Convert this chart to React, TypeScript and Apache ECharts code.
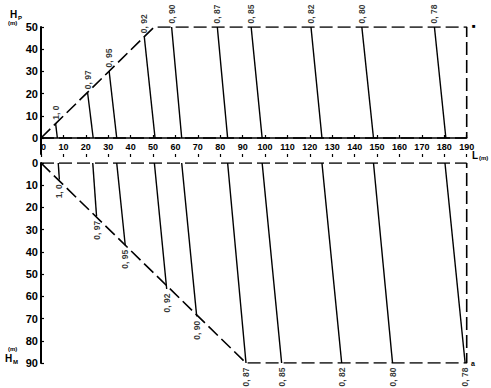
import React, { useEffect, useRef } from "react";
import * as echarts from "echarts";

// factor labels
const factorLabels = ["1, 0", "0, 97", "0, 95", "0, 92", "0, 90", "0, 87", "0, 85", "0, 82", "0, 80", "0, 78"];

// upper diagram (H_P): top end of each factor line and its foot on H_P = 0
const upperTopX = [6.5, 20.8, 30.4, 46.1, 58.3, 78.7, 93.8, 120.5, 143.2, 175.6];
const upperTopY = [6.7, 20.4, 30.2, 45.6, 50, 50, 50, 50, 50, 50];
const upperFootX = [7.3, 23.3, 33.8, 50.9, 62.8, 83.3, 98.7, 125.4, 148.4, 180.7];

// lower diagram (H_M): start on H_M = 0 and bottom end of each factor line
const lowerTopX = [7.7, 23.1, 33.8, 50.6, 62.8, 83.3, 98.7, 125.4, 148.4, 180.3];
const lowerBotX = [8.2, 24.8, 37.6, 56.1, 69.5, 91.5, 107.4, 134.2, 156.9, 189.3];
const lowerBotY = [7.5, 24, 37, 56.7, 69, 90, 90, 90, 90, 90];

// boundaries
const upperOutline = [[0, 0], [50.5, 50], [190, 50], [190, 0]];
const upperBase = [[0, 0], [190, 0]];
const lowerOutline = [[0, 0], [91.5, 90], [190, 90], [190, 0]];
const lowerBase = [[0, 0], [190, 0]];

// axis ticks
const upperYTicks = [0, 10, 20, 30, 40, 50];

const FONT = "Liberation Sans";

export default function App() {
  const ref = useRef<HTMLDivElement>(null);
  useEffect(() => {
    if (!ref.current) return;
    const chart = echarts.init(ref.current, null, { renderer: "svg" });
    const black = "#000";
    const dashed = (data: number[][], xi: number, yi: number) => ({
      type: "line",
      xAxisIndex: xi,
      yAxisIndex: yi,
      data,
      symbol: "none",
      silent: true,
      lineStyle: { color: black, width: 1.6, type: [13, 5] },
    });
    const series: any[] = [];
    series.push(dashed(upperBase, 0, 0));
    series.push(dashed(upperOutline, 0, 0));
    series.push(dashed(lowerBase, 2, 1));
    series.push(dashed(lowerOutline, 2, 1));
    factorLabels.forEach((_, i) => {
      series.push({
        type: "line",
        xAxisIndex: 0,
        yAxisIndex: 0,
        symbol: "none",
        silent: true,
        data: [[upperTopX[i], upperTopY[i]], [upperFootX[i], 0]],
        lineStyle: { color: black, width: 1.4 },
      });
      series.push({
        type: "line",
        xAxisIndex: 2,
        yAxisIndex: 1,
        symbol: "none",
        silent: true,
        data: [[lowerTopX[i], 0], [lowerBotX[i], lowerBotY[i]]],
        lineStyle: { color: black, width: 1.4 },
      });
    });
    const labelStyle = { color: black, fontFamily: FONT, fontWeight: "bold", fontSize: 8.5 };
    series.push({
      type: "scatter",
      xAxisIndex: 0,
      yAxisIndex: 0,
      symbolSize: 1,
      silent: true,
      itemStyle: { color: "transparent" },
      data: factorLabels.map((n, i) => ({ value: [upperTopX[i], upperTopY[i]], name: n })),
      label: {
        show: true,
        formatter: (p: any) => p.name,
        position: "top",
        distance: 3,
        rotate: 90,
        align: "left",
        verticalAlign: "middle",
        ...labelStyle,
      },
    });
    series.push({
      type: "scatter",
      xAxisIndex: 2,
      yAxisIndex: 1,
      symbolSize: 1,
      silent: true,
      itemStyle: { color: "transparent" },
      data: factorLabels.map((n, i) => ({ value: [lowerBotX[i], lowerBotY[i]], name: n })),
      label: {
        show: true,
        formatter: (p: any) => p.name,
        position: "bottom",
        distance: 4,
        rotate: 90,
        align: "right",
        verticalAlign: "middle",
        ...labelStyle,
      },
    });

    const small = (text: string, x: number, y: number, size: number) => ({
      type: "text",
      x,
      y,
      silent: true,
      style: { text, fill: black, font: `bold ${size}px ${FONT}` },
    });

    chart.setOption({
      animation: false,
      backgroundColor: "#fff",
      grid: [
        { left: 41, right: 24.3, top: 27, height: 127 },
        { left: 41, right: 24.3, top: 163, height: 200 },
      ],
      xAxis: [
        {
          type: "value",
          gridIndex: 0,
          min: 0,
          max: 190,
          interval: 10,
          position: "bottom",
          axisLine: { show: true, lineStyle: { color: black, width: 1.6 } },
          axisTick: { show: true, inside: true, length: 3, lineStyle: { color: black, width: 1.2 } },
          axisLabel: {
            inside: true,
            margin: 3,
            alignMinLabel: "left",
            color: black,
            fontFamily: FONT,
            fontWeight: "bold",
            fontSize: 9,
          },
          splitLine: { show: false },
        },
        {
          type: "value",
          gridIndex: 0,
          min: 0,
          max: 190,
          interval: 10,
          position: "bottom",
          axisLine: { show: false },
          axisTick: { show: true, inside: false, length: 3, lineStyle: { color: black, width: 1.2 } },
          axisLabel: { show: false },
          splitLine: { show: false },
        },
        { type: "value", gridIndex: 1, min: 0, max: 190, show: false, splitLine: { show: false } },
      ],
      yAxis: [
        {
          type: "value",
          gridIndex: 0,
          min: -7.2,
          max: 50,
          axisLine: { show: true, lineStyle: { color: black, width: 2 } },
          axisTick: {
            show: true,
            inside: true,
            length: 3,
            customValues: upperYTicks,
            lineStyle: { color: black, width: 1.2 },
          },
          axisLabel: {
            customValues: upperYTicks,
            margin: 3,
            color: black,
            fontFamily: FONT,
            fontWeight: "bold",
            fontSize: 11,
          },
          splitLine: { show: false },
        },
        {
          type: "value",
          gridIndex: 1,
          min: 0,
          max: 90,
          interval: 10,
          inverse: true,
          axisLine: { show: true, lineStyle: { color: black, width: 2 } },
          axisTick: { show: true, inside: true, length: 3, lineStyle: { color: black, width: 1.2 } },
          axisLabel: {
            margin: 3,
            color: black,
            fontFamily: FONT,
            fontWeight: "bold",
            fontSize: 11,
          },
          splitLine: { show: false },
        },
      ],
      graphic: [
        small("H", 10, 9, 10),
        small("P", 18, 15, 6),
        small("(m)", 8, 20, 6),
        small("(m)", 8, 346, 6),
        small("H", 5, 353, 10),
        small("M", 13, 359, 6),
        small("L", 472, 150, 10),
        small("(m)", 479, 155, 6),
        small("■", 472, 23, 6),
        small("a", 471, 360, 7),
      ],
      series,
    });
    return () => chart.dispose();
  }, []);
  return (
    <div
      ref={ref}
      style={{ position: "fixed", left: 0, top: 0, width: 491, height: 388, background: "#fff" }}
    />
  );
}
